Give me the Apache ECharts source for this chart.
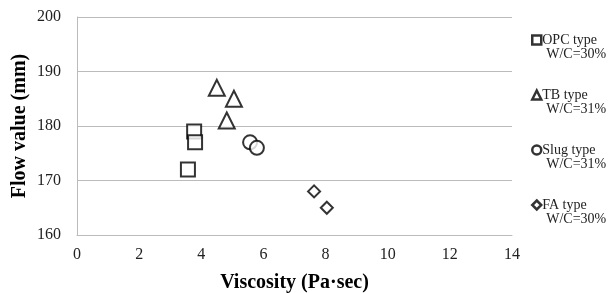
<!DOCTYPE html>
<html>
<head>
<meta charset="utf-8">
<script src="https://cdn.jsdelivr.net/npm/echarts@6/dist/echarts.min.js"></script>
<style>
  html, body { margin: 0; padding: 0; background: #fff; }
  #chart { width: 611px; height: 293px; }
</style>
</head>
<body>
<div id="chart"></div>
<script>
// viscosity (Pa·sec) vs flow value (mm)
const seriesNames = ['OPC type', 'TB type', 'Slug type', 'FA type']
const seriesSub = ['W/C=30%', 'W/C=31%', 'W/C=31%', 'W/C=30%']
const opcData = [[3.57, 172], [3.77, 179], [3.8, 177]]
const tbData = [[4.5, 187], [5.05, 185], [4.82, 181]]
const slugData = [[5.57, 177], [5.79, 176]]
const faData = [[7.63, 168], [8.04, 165]]
const xTicks = [0, 2, 4, 6, 8, 10, 12, 14]
const yTicks = [160, 170, 180, 190, 200]

const symbols = ['rect', 'triangle', 'circle', 'diamond']
const sizes = [14, 16, 14, 12]
const allData = [opcData, tbData, slugData, faData]

const chart = echarts.init(document.getElementById('chart'))
const font = 'Liberation Serif, Times New Roman, serif'

chart.setOption({
  animation: false,
  textStyle: { fontFamily: font },
  grid: { left: 77, right: 99, top: 17, bottom: 58, outerBoundsMode: 'none', containLabel: false },
  xAxis: {
    type: 'value',
    min: xTicks[0], max: xTicks[xTicks.length - 1], interval: 2,
    name: 'Viscosity (Pa·sec)',
    nameLocation: 'middle', nameGap: 38, nameMoveOverlap: false,
    nameTextStyle: { fontFamily: font, fontWeight: 'bold', fontSize: 20, color: '#000' },
    axisLine: { show: true, lineStyle: { color: '#bbb' } },
    axisTick: { show: false },
    axisLabel: { fontFamily: font, fontSize: 16, color: '#222', margin: 12 },
    splitLine: { show: false }
  },
  yAxis: {
    type: 'value',
    min: yTicks[0], max: yTicks[yTicks.length - 1], interval: 10,
    name: 'Flow value (mm)',
    nameLocation: 'middle', nameGap: 47, nameMoveOverlap: false,
    nameTextStyle: { fontFamily: font, fontWeight: 'bold', fontSize: 20, color: '#000' },
    axisLine: { show: true, lineStyle: { color: '#bbb' } },
    axisTick: { show: false },
    axisLabel: { fontFamily: font, fontSize: 16, color: '#222', margin: 16 },
    splitLine: { show: true, lineStyle: { color: '#bbb' } }
  },
  legend: {
    orient: 'vertical',
    left: 526, top: 28,
    itemWidth: 9, itemHeight: 9, itemGap: 27,
    data: seriesNames.map((n, i) => ({
      name: n,
      icon: symbols[i],
      itemStyle: { color: '#fff', borderColor: '#000', borderWidth: 2.5 }
    })),
    formatter: name => {
      const i = seriesNames.indexOf(name)
      return '{a|' + name + '}\n{b|' + seriesSub[i] + '}'
    },
    textStyle: {
      fontFamily: font, color: '#222', padding: [0, 0, -14, -4],
      rich: {
        a: { fontFamily: font, fontSize: 14, color: '#222', lineHeight: 14 },
        b: { fontFamily: font, fontSize: 14, color: '#222', lineHeight: 14, padding: [0, 0, 0, 4] }
      }
    }
  },
  series: seriesNames.map((n, i) => ({
    name: n,
    type: 'scatter',
    symbol: symbols[i],
    symbolSize: sizes[i],
    data: allData[i],
    itemStyle: { color: '#fff', borderColor: '#000', borderWidth: 2 }
  }))
})
</script>
</body>
</html>
